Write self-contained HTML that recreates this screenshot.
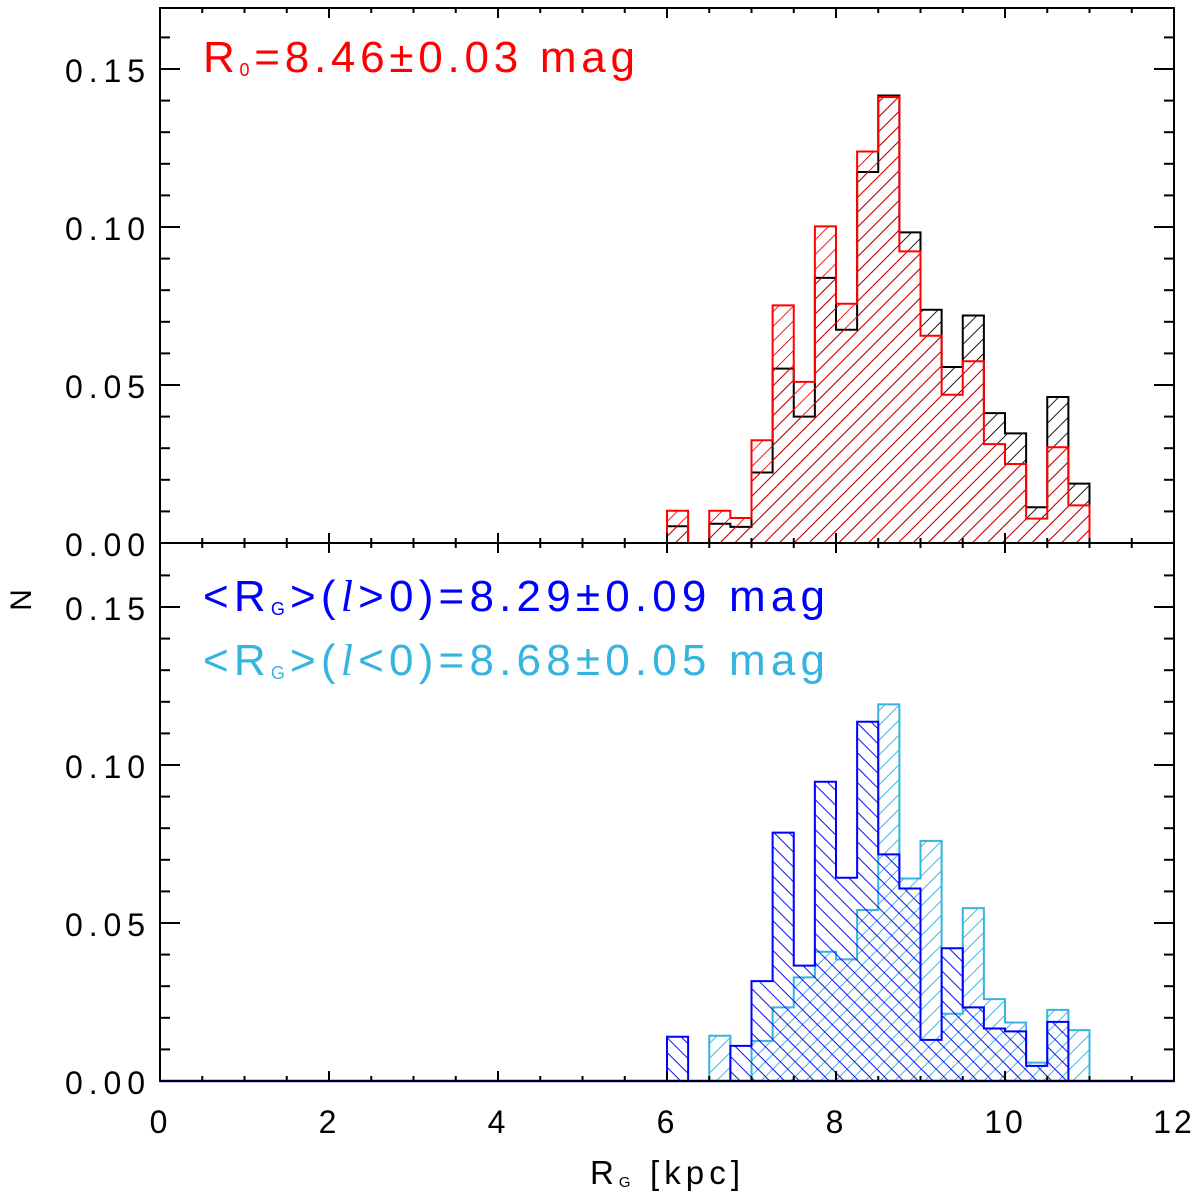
<!DOCTYPE html>
<html><head><meta charset="utf-8">
<style>
html,body{margin:0;padding:0;background:#fff;}
svg{display:block;font-family:"Liberation Sans",sans-serif;}
</style></head>
<body>
<svg id="chart" width="1200" height="1198" viewBox="0 0 1200 1198" xmlns="http://www.w3.org/2000/svg">
<defs>
<pattern id="hatchRed" patternUnits="userSpaceOnUse" width="10.5" height="10.5" patternTransform="rotate(45)"><line x1="0" y1="0" x2="0" y2="10.5" stroke="#ff0000" stroke-width="1.8"/></pattern>
<pattern id="hatchBlack" patternUnits="userSpaceOnUse" width="10.5" height="10.5" patternTransform="rotate(45)"><line x1="0" y1="0" x2="0" y2="10.5" stroke="#000" stroke-width="1.8"/></pattern>
<pattern id="hatchCyan" patternUnits="userSpaceOnUse" width="10.5" height="10.5" patternTransform="rotate(45)"><line x1="0" y1="0" x2="0" y2="10.5" stroke="#35b4e0" stroke-width="1.9"/></pattern>
<pattern id="hatchBlue" patternUnits="userSpaceOnUse" width="10.5" height="10.5" patternTransform="rotate(-45)"><line x1="0" y1="0" x2="0" y2="10.5" stroke="#0000ff" stroke-width="1.9"/></pattern>
</defs>
<g id="top-hist"></g>
<g id="bot-hist"></g>
<g id="axes"></g>
<text x="203" y="72" font-size="44" fill="#ff0000" textLength="432" lengthAdjust="spacing">R<tspan font-size="18" dy="4">0</tspan><tspan dy="-4">=8.46±0.03 mag</tspan></text>
<text x="203" y="611" font-size="44" fill="#0000ff" textLength="622" lengthAdjust="spacing">&lt;R<tspan font-size="18" dy="4">G</tspan><tspan dy="-4">&gt;(</tspan><tspan font-family="Liberation Serif" font-style="italic">l</tspan>&gt;0)=8.29±0.09 mag</text>
<text x="203" y="675" font-size="44" fill="#35b4e0" textLength="622" lengthAdjust="spacing">&lt;R<tspan font-size="18" dy="4">G</tspan><tspan dy="-4">&gt;(</tspan><tspan font-family="Liberation Serif" font-style="italic">l</tspan>&lt;0)=8.68±0.05 mag</text>
<text x="590" y="1184" font-size="33" fill="#000" textLength="150" lengthAdjust="spacing">R<tspan font-size="15" dy="3">G</tspan><tspan dy="-3"> [kpc]</tspan></text>
<text x="0" y="0" font-size="30" text-anchor="middle" fill="#000" transform="translate(31,600) rotate(-90)">N</text>
</svg>
<script>
const binStart = 6.0;
const binWidth = 0.25;
const allBlack = [0.0053,0,0.0061,0.0051,0.0223,0.0552,0.040,0.0839,0.0675,0.1174,0.1416,0.0983,0.0738,0.0557,0.072,0.0411,0.0347,0.0113,0.0462,0.0188];
const allRed = [0.0102,0,0.0102,0.0079,0.0325,0.0752,0.051,0.1002,0.0757,0.1239,0.1411,0.0923,0.0656,0.0469,0.0575,0.0313,0.025,0.0077,0.0303,0.0119];
const lPos = [0.014,0,0,0.0111,0.0316,0.0786,0.0365,0.0947,0.0643,0.1137,0.0717,0.0609,0.013,0.042,0.0233,0.0166,0.0157,0.0048,0.0187,0];
const lNeg = [0,0,0.0143,0,0.0127,0.0233,0.0328,0.0409,0.0385,0.0541,0.1192,0.0641,0.076,0.0213,0.0547,0.0259,0.0185,0.0058,0.0225,0.0161];
const xTicks = [0,2,4,6,8,10,12];
const yTicks = ["0.00","0.05","0.10","0.15"];

const NS = "http://www.w3.org/2000/svg";
const L = 160, R = 1174;
const xs = v => L + v * (R - L) / 12;
const panels = [{top:8, base:543},{top:543, base:1081}];
const ys = (p, v) => panels[p].base - v * 3160;

function mk(tag, attrs, parent){
  const e = document.createElementNS(NS, tag);
  for (const k in attrs) e.setAttribute(k, attrs[k]);
  parent.appendChild(e);
  return e;
}
function histPath(vals, p){
  const b = panels[p].base;
  let d = "M" + xs(binStart) + " " + b;
  vals.forEach((v, i) => {
    const x0 = xs(binStart + i * binWidth), x1 = xs(binStart + (i + 1) * binWidth);
    const y = ys(p, v);
    d += " L" + x0 + " " + y + " L" + x1 + " " + y;
  });
  d += " L" + xs(binStart + vals.length * binWidth) + " " + b + " Z";
  return d;
}
function drawHist(vals, p, fill, stroke, name, parent){
  const el = mk("path", {d: histPath(vals, p), fill: fill, stroke: stroke, "stroke-width": 2}, parent);
  
  
}
const gt = document.getElementById("top-hist");
drawHist(allBlack, 0, "url(#hatchBlack)", "#000", "hist-all-black", gt);
drawHist(allRed, 0, "url(#hatchRed)", "#ff0000", "hist-all-red", gt);
const gb = document.getElementById("bot-hist");
drawHist(lNeg, 1, "url(#hatchCyan)", "#35b4e0", "hist-l-negative", gb);
drawHist(lPos, 1, "url(#hatchBlue)", "#0000ff", "hist-l-positive", gb);
const bl = mk("line", {x1: L, x2: R, y1: 1081, y2: 1081, stroke: "#0000ff", "stroke-width": 2.5}, gb);



const ga = document.getElementById("axes");
panels.forEach((pn, p) => {
  const fr = mk("rect", {x: L, y: pn.top, width: R - L, height: pn.base - pn.top, fill: "none", stroke: "#000", "stroke-width": 2}, ga);
  
  
  for (let v = 0; v <= 12.001; v += 0.5) {
    const major = Math.abs(v / 2 - Math.round(v / 2)) < 1e-6;
    const len = major ? 10 : 5;
    const x = xs(v);
    const t1 = mk("line", {x1: x, x2: x, y1: pn.base, y2: pn.base - len, stroke: "#000", "stroke-width": 2}, ga);
    
    
    const t2 = mk("line", {x1: x, x2: x, y1: pn.top, y2: pn.top + len, stroke: "#000", "stroke-width": 2}, ga);
    
    
  }
  for (let k = 0; k <= 16; k++) {
    const v = k * 0.01;
    const y = ys(p, v);
    if (y < pn.top) continue;
    const len = k % 5 === 0 ? 20 : 10;
    const t1 = mk("line", {x1: L, x2: L + len, y1: y, y2: y, stroke: "#000", "stroke-width": 2}, ga);
    
    
    const t2 = mk("line", {x1: R, x2: R - len, y1: y, y2: y, stroke: "#000", "stroke-width": 2}, ga);
    
    
  }
  yTicks.forEach(lbl => {
    const t = mk("text", {x: 65, y: ys(p, parseFloat(lbl)) + 13, "font-size": 32, fill: "#000", textLength: 80, lengthAdjust: "spacing"}, ga);
    t.textContent = lbl;
    
    
  });
});
xTicks.forEach(v => {
  const t = mk("text", {x: xs(v), y: 1133, "font-size": 32, "text-anchor": "middle", fill: "#000", "letter-spacing": "3"}, ga);
  t.textContent = String(v);
  
  
});
</script>
</body></html>
